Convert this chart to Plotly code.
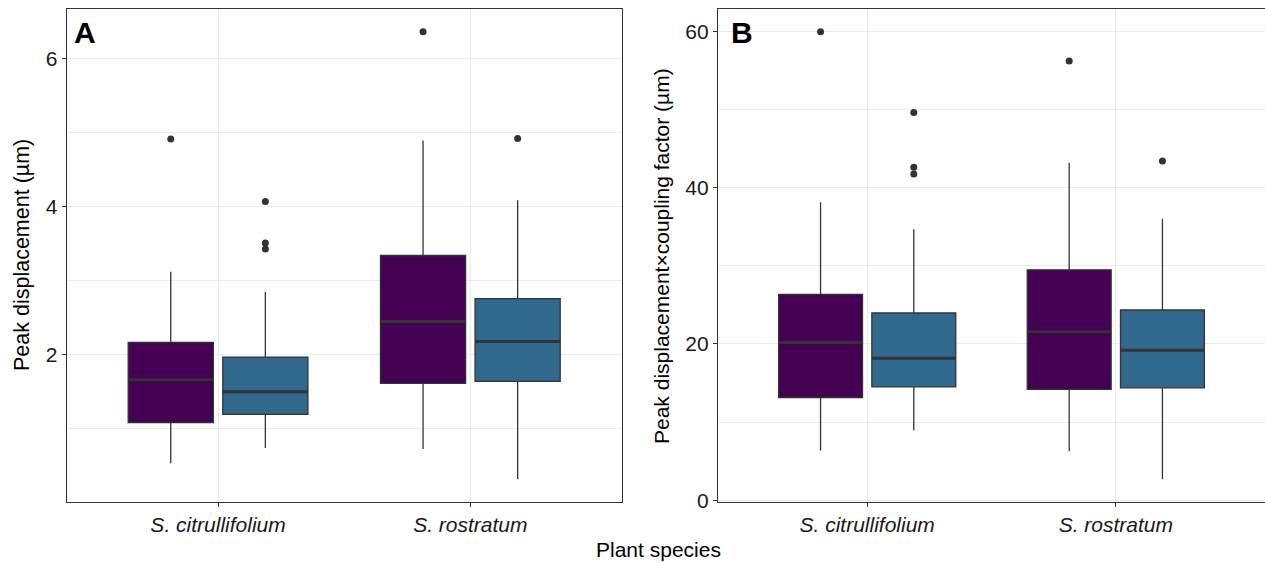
import plotly.graph_objects as go

# ---------------- data ----------------
species = ["S. citrullifolium", "S. rostratum"]

# Panel A: Peak displacement (µm)
A_purple_low  = [0.534, 0.728]
A_purple_q1   = [1.083, 1.613]
A_purple_med  = [1.662, 2.449]
A_purple_q3   = [2.165, 3.338]
A_purple_high = [3.12, 4.889]
A_purple_out  = [[4.91], [6.358]]

A_blue_low  = [0.742, 0.318]
A_blue_q1   = [1.195, 1.64]
A_blue_med  = [1.50, 2.179]
A_blue_q3   = [1.968, 2.755]
A_blue_high = [2.845, 4.085]
A_blue_out  = [[4.067, 3.506, 3.425], [4.916]]

# Panel B: Peak displacement x coupling factor (µm)
B_purple_low  = [6.38, 6.29]
B_purple_q1   = [13.15, 14.2]
B_purple_med  = [20.2, 21.57]
B_purple_q3   = [26.33, 29.48]
B_purple_high = [38.12, 43.18]
B_purple_out  = [[59.95], [56.2]]

B_blue_low  = [8.97, 2.68]
B_blue_q1   = [14.51, 14.38]
B_blue_med  = [18.16, 19.18]
B_blue_q3   = [23.96, 24.34]
B_blue_high = [34.68, 36.03]
B_blue_out  = [[49.61, 42.6, 41.74], [43.4]]

A_ticks = [2, 4, 6]
B_ticks = [0, 20, 40, 60]

# ---------------- style ----------------
PURPLE = "#440154"
BLUE = "#31688E"
EDGE = "#333333"
GRID = "#EBEBEB"
FONT = "Liberation Sans, Arial, sans-serif"
OFFSET = 0.1875
BOXW = 0.3375

fig = go.Figure()

panels = [
    ("x", "y", [
        (PURPLE, -OFFSET, A_purple_low, A_purple_q1, A_purple_med, A_purple_q3, A_purple_high, A_purple_out),
        (BLUE, OFFSET, A_blue_low, A_blue_q1, A_blue_med, A_blue_q3, A_blue_high, A_blue_out),
    ]),
    ("x2", "y2", [
        (PURPLE, -OFFSET, B_purple_low, B_purple_q1, B_purple_med, B_purple_q3, B_purple_high, B_purple_out),
        (BLUE, OFFSET, B_blue_low, B_blue_q1, B_blue_med, B_blue_q3, B_blue_high, B_blue_out),
    ]),
]

ranges = []
for xa, ya, series in panels:
    allv = []
    for color, off, low, q1, med, q3, high, outs in series:
        for i in range(len(species)):
            pos = i + off
            fig.add_trace(go.Box(
                x=[pos], q1=[q1[i]], median=[med[i]], q3=[q3[i]],
                lowerfence=[low[i]], upperfence=[high[i]],
                width=BOXW, whiskerwidth=0,
                fillcolor=color, line=dict(color=EDGE, width=1.3),
                boxpoints=False, hoverinfo="skip", showlegend=False,
                xaxis=xa, yaxis=ya,
            ))
            fig.add_trace(go.Scatter(
                x=[pos - BOXW / 2, pos + BOXW / 2], y=[med[i], med[i]],
                mode="lines", line=dict(color=EDGE, width=3),
                hoverinfo="skip", showlegend=False, xaxis=xa, yaxis=ya,
            ))
            if outs[i]:
                fig.add_trace(go.Scatter(
                    x=[pos] * len(outs[i]), y=outs[i], mode="markers",
                    marker=dict(color=EDGE, size=7),
                    hoverinfo="skip", showlegend=False, xaxis=xa, yaxis=ya,
                ))
            allv += [low[i], high[i]] + list(outs[i])
    lo, hi = min(allv), max(allv)
    pad = 0.05 * (hi - lo)
    ranges.append([lo - pad, hi + pad])

W, H = 1265, 563
ydom = [1 - 501.7 / H, 1 - 9.3 / H]

common_x = dict(
    tickmode="array", tickvals=[0, 1],
    ticktext=["<i>%s</i>" % s for s in species],
    range=[-0.6, 1.6], showgrid=True, gridcolor=GRID, gridwidth=1.2,
    zeroline=False, showline=True, mirror=True, linecolor=EDGE, linewidth=1.2,
    ticks="outside", ticklen=4, tickcolor=EDGE, tickwidth=1,
    tickfont=dict(family=FONT, size=21, color="#1a1a1a"),
    automargin=False,
)
common_y = dict(
    showgrid=True, gridcolor=GRID, gridwidth=1.2,
    zeroline=False, showline=True, mirror=True, linecolor=EDGE, linewidth=1.2,
    ticks="outside", ticklen=4, tickcolor=EDGE, tickwidth=1,
    tickfont=dict(family=FONT, size=21, color="#1a1a1a"),
    domain=ydom, automargin=False,
)

fig.update_layout(
    width=W, height=H,
    margin=dict(l=0, r=0, t=0, b=0),
    paper_bgcolor="white", plot_bgcolor="white",
    font=dict(family=FONT, color="black"),
    xaxis=dict(common_x, domain=[66.7 / W, 621.7 / W], anchor="y"),
    yaxis=dict(common_y, range=ranges[0], tickmode="array", tickvals=A_ticks,
               minor=dict(dtick=1, tick0=0, showgrid=True, gridcolor=GRID, gridwidth=0.6, ticks=""),
               anchor="x"),
    xaxis2=dict(common_x, domain=[718.0 / W, 1.0], anchor="y2"),
    yaxis2=dict(common_y, range=ranges[1], tickmode="array", tickvals=B_ticks,
                minor=dict(dtick=10, tick0=0, showgrid=True, gridcolor=GRID, gridwidth=0.6, ticks=""),
                anchor="x2"),
    annotations=[
        dict(text="<b>A</b>", x=72 / W, y=1 - 14 / H, xref="paper", yref="paper",
             xanchor="left", yanchor="top", showarrow=False,
             font=dict(family=FONT, size=30, color="black")),
        dict(text="<b>B</b>", x=729 / W, y=1 - 14 / H, xref="paper", yref="paper",
             xanchor="left", yanchor="top", showarrow=False,
             font=dict(family=FONT, size=30, color="black")),
        dict(text="Peak displacement (µm)", x=22 / W, y=1 - 255 / H, xref="paper", yref="paper",
             xanchor="center", yanchor="middle", textangle=-90, showarrow=False,
             font=dict(family=FONT, size=21.5, color="black")),
        dict(text="Peak displacement×coupling factor (µm)", x=661 / W, y=1 - 256 / H,
             xref="paper", yref="paper", xanchor="center", yanchor="middle",
             textangle=-90, showarrow=False,
             font=dict(family=FONT, size=21, color="black")),
        dict(text="Plant species", x=658 / W, y=1 - 549 / H, xref="paper", yref="paper",
             xanchor="center", yanchor="middle", showarrow=False,
             font=dict(family=FONT, size=21, color="black")),
    ],
)

fig.write_html("out.html")
